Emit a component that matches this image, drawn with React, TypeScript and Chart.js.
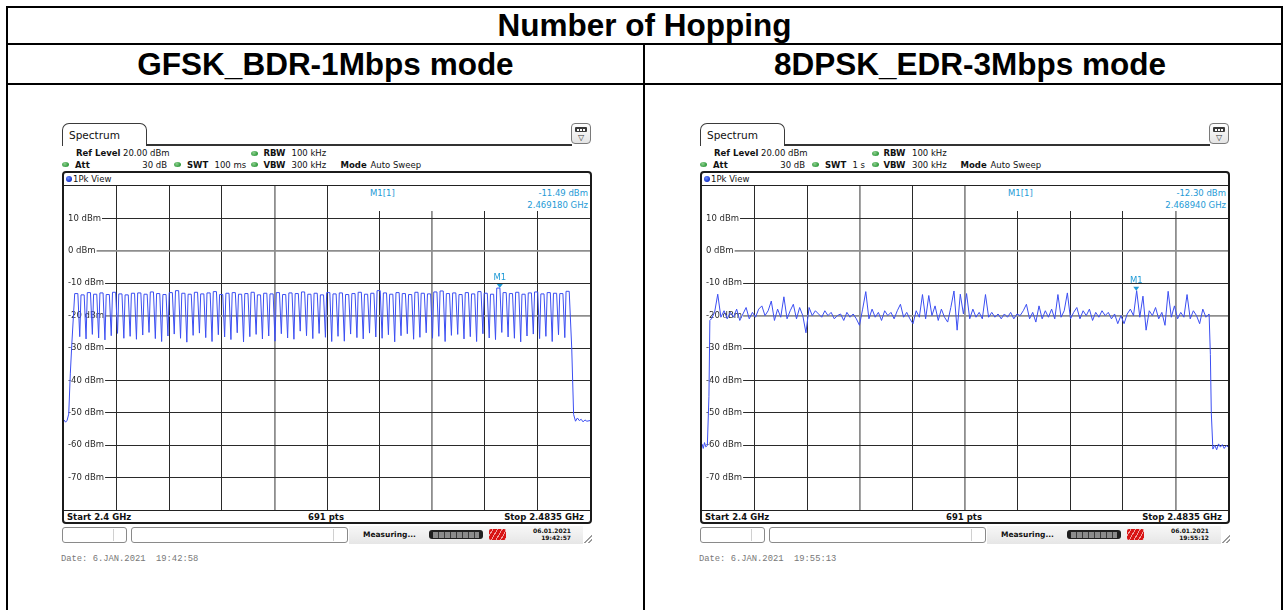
import React, { useEffect, useRef } from 'react';
import { Chart, registerables } from 'chart.js';

Chart.register(...registerables);

// ---------------- data ----------------
const FREQ_START = 2400; // MHz
const FREQ_STOP = 2483.5; // MHz
const X_DIVISIONS = 10;
const Y_TICK_VALUES = [-80, -70, -60, -50, -40, -30, -20, -10, 0, 10, 20];
const Y_TICK_LABELS = ['', '-70 dBm', '-60 dBm', '-50 dBm', '-40 dBm', '-30 dBm', '-20 dBm', '-10 dBm', '0 dBm', '10 dBm', ''];

// GFSK (BDR 1 Mbps): one hump per hopping channel, 2402..2480 MHz
const GFSK_FIRST_CHANNEL = 2402;
const GFSK_PEAKS = [
  -13.2, -13.6, -12.9, -13.4, -13.0, -13.5, -12.8, -13.3, -13.6, -13.1,
  -13.0, -13.4, -12.7, -13.2, -13.5, -12.9, -12.3, -13.1, -13.4, -12.8,
  -13.3, -13.0, -12.6, -13.5, -13.1, -12.9, -13.4, -13.2, -12.8, -13.6,
  -13.1, -13.3, -12.9, -13.5, -13.0, -13.2, -12.7, -13.4, -13.1, -13.6,
  -12.9, -13.3, -13.0, -13.5, -13.2, -12.8, -13.4, -13.1, -12.3, -13.0,
  -13.4, -12.9, -13.2, -13.5, -12.8, -13.1, -13.3, -12.7, -12.4, -13.2,
  -13.0, -13.5, -12.9, -13.3, -12.6, -13.1, -13.4, -11.5, -12.9, -13.2,
  -12.8, -13.4, -13.0, -12.7, -13.3, -12.9, -13.1, -13.2, -12.5,
];
const GFSK_TROUGHS = [
  -26.5, -27.2, -25.8, -26.9, -27.5, -26.2, -25.5, -27.0, -26.4, -27.3,
  -26.0, -25.2, -27.1, -28.0, -26.3, -25.7, -27.0, -28.2, -26.1, -25.4,
  -26.8, -28.0, -25.9, -26.6, -27.4, -25.3, -28.1, -26.5, -25.8, -27.2,
  -26.3, -27.9, -25.6, -26.9, -27.3, -24.8, -26.2, -27.1, -25.5, -26.7,
  -28.0, -26.4, -27.9, -25.7, -26.8, -27.2, -25.4, -26.6, -27.0, -25.9,
  -28.1, -26.2, -25.6, -27.3, -26.7, -25.3, -27.0, -26.4, -28.0, -26.1,
  -25.8, -27.2, -26.5, -28.0, -25.6, -26.9, -27.4, -25.2, -26.6, -27.0,
  -28.1, -26.3, -25.7, -27.1, -26.4, -28.0, -25.9, -26.8,
];
const GFSK_LEAD_FREQ = [2400, 2400.25, 2400.5, 2400.75, 2401.0, 2401.25];
const GFSK_LEAD = [-52.2, -52.9, -52.3, -50.4, -38.0, -28.5];
const GFSK_TAIL_FREQ = [2480.6, 2480.9, 2481.2, 2481.5, 2481.8, 2482.1, 2482.4, 2482.7, 2483.0, 2483.5];
const GFSK_TAIL = [-30.0, -50.5, -52.6, -51.6, -52.4, -52.0, -52.8, -52.2, -52.6, -52.4];
const GFSK_M1 = { freq: 2469.18, level: -11.49 };

// 8DPSK (EDR 3 Mbps): sweep samples every 0.5 MHz from 2401.5 MHz
const EDR_START = 2401.5;
const EDR_STEP = 0.5;
const EDR_LEVELS = [
  -21, -19, -13.4, -20.5, -18.5, -21, -19, -20.5, -18, -21.5,
  -19.5, -17.5, -21, -19, -20.5, -18, -17, -20, -18.5, -15.5,
  -21.5, -18, -20.5, -14.2, -21, -18.5, -16.5, -21, -17.5, -20,
  -25.3, -17.5, -20, -18.5, -19.5, -20.5, -18.5, -20, -19, -21,
  -20, -19.5, -21.5, -19, -20.5, -19.5, -21, -23, -18, -12.6,
  -21, -18, -20.5, -19, -21.5, -18.5, -20, -19, -21, -18.5,
  -16.5, -20.5, -19, -21, -22.5, -18.5, -20.5, -13.5, -21, -13.8,
  -20, -17, -21.5, -18, -20.5, -22, -17.5, -12.4, -24.5, -13.4,
  -19.5, -13.2, -21, -18, -20.5, -19, -21, -13.5, -20.5, -19,
  -20.5, -19.5, -21, -19.5, -20.5, -19, -21, -19.5, -20, -18.5,
  -16.5, -21, -19, -22, -17, -21, -18.5, -20.5, -18, -21,
  -13.5, -20.5, -18.5, -13.0, -21, -19, -17.5, -21, -18.5, -20,
  -18, -21.5, -19, -20.5, -18.5, -20, -19, -21, -19.5, -22.5,
  -20, -22.5, -19.5, -18, -20, -12.3, -20.5, -14, -24.5, -18.5,
  -20, -17.5, -21, -19, -23, -12.5, -20.5, -17, -21, -19,
  -20.5, -13.5, -21, -18.5, -20, -22.5, -18, -20.5, -19.5,
];
const EDR_LEAD_FREQ = [2400, 2400.2, 2400.4, 2400.6, 2400.85, 2401.1, 2401.25];
const EDR_LEAD = [-59.6, -61.0, -59.2, -60.5, -60.1, -45.0, -21.5];
const EDR_TAIL_FREQ = [2480.7, 2480.85, 2481.1, 2481.4, 2481.7, 2482.0, 2482.3, 2482.6, 2482.9, 2483.2, 2483.5];
const EDR_TAIL = [-32.0, -50.0, -61.2, -60.0, -61.4, -59.6, -60.6, -59.8, -61.0, -60.1, -60.5];
const EDR_M1 = { freq: 2468.94, level: -12.3 };

// ---------------- build points ----------------
type P = { x: number; y: number };
function gfskPoints(): P[] {
  const pts: P[] = [];
  GFSK_LEAD_FREQ.forEach((f, i) => pts.push({ x: f, y: GFSK_LEAD[i] }));
  GFSK_PEAKS.forEach((pk, k) => {
    const c = GFSK_FIRST_CHANNEL + k;
    pts.push({ x: c - 0.3, y: pk });
    pts.push({ x: c + 0.2, y: pk });
    if (k < GFSK_TROUGHS.length) pts.push({ x: c + 0.5, y: GFSK_TROUGHS[k] });
  });
  GFSK_TAIL_FREQ.forEach((f, i) => pts.push({ x: f, y: GFSK_TAIL[i] }));
  return pts;
}
function edrPoints(): P[] {
  const pts: P[] = [];
  EDR_LEAD_FREQ.forEach((f, i) => pts.push({ x: f, y: EDR_LEAD[i] }));
  EDR_LEVELS.forEach((v, i) => pts.push({ x: EDR_START + i * EDR_STEP, y: v }));
  EDR_TAIL_FREQ.forEach((f, i) => pts.push({ x: f, y: EDR_TAIL[i] }));
  return pts;
}

// ---------------- styling ----------------
const UI = '"DejaVu Sans", Verdana, sans-serif';
const TRACE = '#3b4ef2';
const MARK = '#1e9ad6';
const GRID_DARK = '#2a2a2a';
const GRID_GRAY = '#8e8e8e';

type TP = { x: number; y: number; a?: 'l' | 'c' | 'r'; s?: React.CSSProperties; children: React.ReactNode };
const T = ({ x, y, a = 'l', s, children }: TP) => (
  <div
    style={{
      position: 'absolute',
      left: x,
      top: y,
      transform: `translate(${a === 'l' ? '0' : a === 'c' ? '-50%' : '-100%'}, -50%)`,
      whiteSpace: 'pre',
      lineHeight: 1,
      fontFamily: UI,
      fontSize: 8.5,
      color: '#111',
      ...s,
    }}
  >
    {children}
  </div>
);

const Box = (s: React.CSSProperties) => <div style={{ position: 'absolute', boxSizing: 'border-box', ...s }} />;

const Dot = ({ x, y }: { x: number; y: number }) => (
  <Box left={x} top={y - 2.5} width={7} height={5} borderRadius="50%" background="radial-gradient(circle at 40% 35%, #8fd08f, #2f9a3c 70%)" />
);

type Cols = {
  rbwDot: number; rbwLbl: number; rbwVal: number;
  swtDot: number; swtLbl: number; swtVal: number;
  vbwDot: number; vbwLbl: number; vbwVal: number;
  modeLbl: number; modeVal: number;
};

type PanelProps = {
  ox: number;
  points: P[];
  marker: { freq: number; level: number };
  swt: string;
  cols: Cols;
  grayX: number[];
  stamp: string;
  date: string;
};

function Panel({ ox, points, marker, swt, cols, grayX, stamp, date }: PanelProps) {
  const ref = useRef<HTMLCanvasElement>(null);
  useEffect(() => {
    const xStep = (FREQ_STOP - FREQ_START) / X_DIVISIONS;
    const xTicks = Array.from({ length: X_DIVISIONS + 1 }, (_, k) => FREQ_START + k * xStep);
    const markerPlugin = {
      id: 'm1marker',
      afterDatasetsDraw(chart: any) {
        const { ctx, scales } = chart;
        const px = scales.x.getPixelForValue(marker.freq);
        const py = scales.y.getPixelForValue(marker.level);
        ctx.save();
        ctx.fillStyle = MARK;
        ctx.beginPath();
        ctx.moveTo(px - 3, py - 4);
        ctx.lineTo(px + 3, py - 4);
        ctx.lineTo(px, py);
        ctx.closePath();
        ctx.fill();
        ctx.font = `8.5px ${UI}`;
        ctx.textAlign = 'center';
        ctx.textBaseline = 'middle';
        ctx.fillText('M1', px, py - 10);
        ctx.restore();
      },
    };
    const chart = new Chart(ref.current as HTMLCanvasElement, {
      type: 'line',
      data: {
        datasets: [
          { data: points, borderColor: TRACE, borderWidth: 1, pointRadius: 0, tension: 0, fill: false },
        ],
      },
      options: {
        animation: false,
        responsive: false,
        maintainAspectRatio: false,
        events: [],
        layout: { padding: 0 },
        plugins: { legend: { display: false }, tooltip: { enabled: false } },
        scales: {
          x: {
            type: 'linear',
            min: FREQ_START,
            max: FREQ_STOP,
            afterBuildTicks: (s: any) => { s.ticks = xTicks.map((v) => ({ value: v })); },
            afterFit: (s: any) => { s.height = 0; s.paddingLeft = 0; s.paddingRight = 0; s.paddingTop = 0; s.paddingBottom = 0; },
            ticks: { display: false },
            border: { display: false },
            grid: {
              drawTicks: false,
              color: (c: any) => (c.index === 0 || c.index === X_DIVISIONS ? 'rgba(0,0,0,0)' : grayX.includes(c.index) ? GRID_GRAY : GRID_DARK),
              lineWidth: (c: any) => (grayX.includes(c.index) ? 1.8 : 1),
            },
          },
          y: {
            type: 'linear',
            min: Y_TICK_VALUES[0],
            max: Y_TICK_VALUES[Y_TICK_VALUES.length - 1],
            afterBuildTicks: (s: any) => { s.ticks = Y_TICK_VALUES.map((v) => ({ value: v })); },
            afterFit: (s: any) => { s.width = 0; s.paddingLeft = 0; s.paddingRight = 0; s.paddingTop = 0; s.paddingBottom = 0; },
            ticks: {
              mirror: true,
              padding: 4,
              color: '#2b2b2b',
              font: { family: UI, size: 8.5 },
              callback: (v: any) => {
                const i = Y_TICK_VALUES.indexOf(Number(v));
                return Y_TICK_LABELS[i] ? Y_TICK_LABELS[i] : null;
              },
              showLabelBackdrop: true,
              backdropColor: '#ffffff',
              backdropPadding: { left: 4, right: 1, top: 0, bottom: 0 },
            },
            border: { display: false },
            grid: {
              drawTicks: false,
              color: (c: any) => {
                const v = c.tick ? c.tick.value : 0;
                if (v === 20 || v === -80) return 'rgba(0,0,0,0)';
                return v === 0 || v === -20 ? GRID_GRAY : GRID_DARK;
              },
              lineWidth: (c: any) => {
                const v = c.tick ? c.tick.value : 0;
                return v === 0 || v === -20 ? 1.8 : 1;
              },
            },
          },
        },
      } as any,
      plugins: [markerPlugin],
    });
    return () => chart.destroy();
  }, []);

  const X = (v: number) => v + ox;
  const bold: React.CSSProperties = { fontWeight: 'bold' };
  const markerVal = `${marker.level.toFixed(2)} dBm`;
  const markerFreq = `${(marker.freq / 1000).toFixed(6)} GHz`;

  return (
    <>
      {/* Spectrum tab */}
      <Box left={X(62)} top={123} width={85} height={23} border="1px solid #3a3a3a" borderBottom="none" borderRadius="7px 7px 0 0" background="#fff" />
      <T x={X(69)} y={134.5} s={{ fontSize: 10.5 }}>Spectrum</T>
      <Box left={X(146)} top={144} width={426} height={2} background="#333" />
      {/* top-right icon */}
      <Box left={X(571)} top={123} width={20} height={21} border="1px solid #7a7a7a" borderRadius={4} background="linear-gradient(#ffffff, #e4e4e4)" />
      <Box left={X(575)} top={127} width={12} height={5} background="#3a3a3a" borderRadius={1} />
      <Box left={X(576.5)} top={128.5} width={9} height={2} background="repeating-linear-gradient(90deg, #fff 0 2px, #3a3a3a 2px 3px)" />
      <T x={X(581)} y={138} a="c" s={{ fontSize: 8, color: '#333' }}>▽</T>

      {/* settings rows */}
      <T x={X(76)} y={153} s={bold}>Ref Level</T>
      <T x={X(123)} y={153}>20.00 dBm</T>
      <Dot x={X(cols.rbwDot)} y={153} />
      <T x={X(cols.rbwLbl)} y={153} s={bold}>RBW</T>
      <T x={X(cols.rbwVal)} y={153}>100 kHz</T>

      <Dot x={X(62)} y={164.5} />
      <T x={X(75)} y={164.5} s={bold}>Att</T>
      <T x={X(167)} y={164.5} a="r">30 dB</T>
      <Dot x={X(cols.swtDot)} y={164.5} />
      <T x={X(cols.swtLbl)} y={164.5} s={bold}>SWT</T>
      <T x={X(cols.swtVal)} y={164.5}>{swt}</T>
      <Dot x={X(cols.vbwDot)} y={164.5} />
      <T x={X(cols.vbwLbl)} y={164.5} s={bold}>VBW</T>
      <T x={X(cols.vbwVal)} y={164.5}>300 kHz</T>
      <T x={X(cols.modeLbl)} y={164.5} s={bold}>Mode</T>
      <T x={X(cols.modeVal)} y={164.5}>Auto Sweep</T>

      {/* view frame */}
      <Box left={X(62)} top={171} width={530} height={353} border="2px solid #1b1b1b" borderRadius={4} />
      <Box left={X(64)} top={185} width={526} height={1} background="#222" />
      <Box left={X(65.5)} top={175.5} width={6} height={6} borderRadius="50%" background="radial-gradient(circle at 40% 35%, #6d8cff, #1230c8 70%)" />
      <T x={X(73)} y={178.5}>1Pk View</T>

      <canvas
        ref={ref}
        width={526}
        height={324}
        style={{ position: 'absolute', left: X(64), top: 186, width: 526, height: 324 }}
      />

      {/* marker info */}
      <Box left={X(333)} top={186} width={257} height={25} background="#fff" />
      <T x={X(370)} y={193} s={{ color: MARK }}>M1[1]</T>
      <T x={X(588)} y={193} a="r" s={{ color: MARK }}>{markerVal}</T>
      <T x={X(588)} y={205} a="r" s={{ color: MARK }}>{markerFreq}</T>

      {/* bottom strip */}
      <Box left={X(64)} top={510} width={526} height={1} background="#222" />
      <T x={X(67)} y={516.5} s={bold}>Start 2.4 GHz</T>
      <T x={X(326)} y={516.5} a="c" s={bold}>691 pts</T>
      <T x={X(584)} y={516.5} a="r" s={bold}>Stop 2.4835 GHz</T>

      {/* status bar */}
      <Box left={X(349)} top={526} width={234} height={18} background="linear-gradient(#f7f7f7, #e6e6e6)" />
      <Box left={X(62)} top={527} width={65} height={16} border="1px solid #8a8a8a" borderRadius={3} background="#fff" />
      <Box left={X(113)} top={529} width={1} height={12} background="#d0d0d0" />
      <Box left={X(131)} top={527} width={217} height={16} border="1px solid #8a8a8a" borderRadius={3} background="#fff" />
      <Box left={X(333)} top={529} width={1} height={12} background="#d0d0d0" />
      <T x={X(363)} y={534.5} s={{ ...bold, fontSize: 7.5 }}>Measuring...</T>
      <Box left={X(429)} top={530} width={54} height={9} borderRadius={3} background="#1f1f1f" />
      <Box left={X(433)} top={531.5} width={46} height={6} background="repeating-linear-gradient(90deg, #8a8a8a 0 5px, #3a3a3a 5px 6px)" />
      <Box left={X(489)} top={529} width={17} height={11} borderRadius={2} background="repeating-linear-gradient(120deg, #d81414 0 3px, #f0a0a0 3px 4px)" />
      <T x={X(571)} y={530.5} a="r" s={{ ...bold, fontSize: 6 }}>{date}</T>
      <T x={X(571)} y={538} a="r" s={{ ...bold, fontSize: 6 }}>{stamp}</T>
      <Box left={X(582)} top={532} width={10} height={11} background="repeating-linear-gradient(135deg, #9a9a9a 0 1px, rgba(0,0,0,0) 1px 3px)" clipPath="polygon(100% 0, 100% 100%, 0 100%)" />
    </>
  );
}

const LEFT_COLS: Cols = {
  rbwDot: 251, rbwLbl: 263.5, rbwVal: 291.5,
  swtDot: 174, swtLbl: 187, swtVal: 214.5,
  vbwDot: 251, vbwLbl: 263.5, vbwVal: 291.5,
  modeLbl: 340.5, modeVal: 370.5,
};
const RIGHT_COLS: Cols = {
  rbwDot: 233.5, rbwLbl: 245.5, rbwVal: 274,
  swtDot: 174, swtLbl: 187, swtVal: 214.5,
  vbwDot: 233.5, vbwLbl: 245.5, vbwVal: 274,
  modeLbl: 322.5, modeVal: 352.5,
};

export default function App() {
  const line = (s: React.CSSProperties) => <Box background="#000" {...(s as any)} />;
  const title: React.CSSProperties = {
    position: 'absolute',
    display: 'flex',
    alignItems: 'center',
    justifyContent: 'center',
    fontFamily: '"Liberation Sans", Arial, sans-serif',
    fontWeight: 'bold',
    fontSize: 31.5,
    color: '#000',
    whiteSpace: 'nowrap',
  };
  return (
    <div style={{ position: 'absolute', left: 0, top: 0, width: 1283, height: 610, overflow: 'hidden', background: '#fff' }}>
      {/* table lines */}
      {line({ left: 6, top: 6, width: 1277, height: 2 })}
      {line({ left: 6, top: 6, width: 2, height: 604 })}
      {line({ left: 1281, top: 6, width: 2, height: 604 })}
      {line({ left: 6, top: 43, width: 1277, height: 2 })}
      {line({ left: 6, top: 83, width: 1277, height: 2 })}
      {line({ left: 643, top: 43, width: 2, height: 567 })}

      <div style={{ ...title, left: 8, top: 8, width: 1273, height: 35 }}>Number of Hopping</div>
      <div style={{ ...title, left: 8, top: 45, width: 635, height: 38 }}>GFSK_BDR-1Mbps mode</div>
      <div style={{ ...title, left: 659, top: 45, width: 622, height: 38 }}>8DPSK_EDR-3Mbps mode</div>

      <Panel ox={0} points={gfskPoints()} marker={GFSK_M1} swt="100 ms" cols={LEFT_COLS} grayX={[4, 7]} date="06.01.2021" stamp="19:42:57" />
      <T x={61} y={559} s={{ fontFamily: '"Liberation Mono", "DejaVu Sans Mono", monospace', fontSize: 8.8, color: '#777' }}>Date: 6.JAN.2021  19:42:58</T>

      <Panel ox={638} points={edrPoints()} marker={EDR_M1} swt="1 s" cols={RIGHT_COLS} grayX={[3, 5, 9]} date="06.01.2021" stamp="19:55:12" />
      <T x={699} y={559} s={{ fontFamily: '"Liberation Mono", "DejaVu Sans Mono", monospace', fontSize: 8.8, color: '#777' }}>Date: 6.JAN.2021  19:55:13</T>
    </div>
  );
}
